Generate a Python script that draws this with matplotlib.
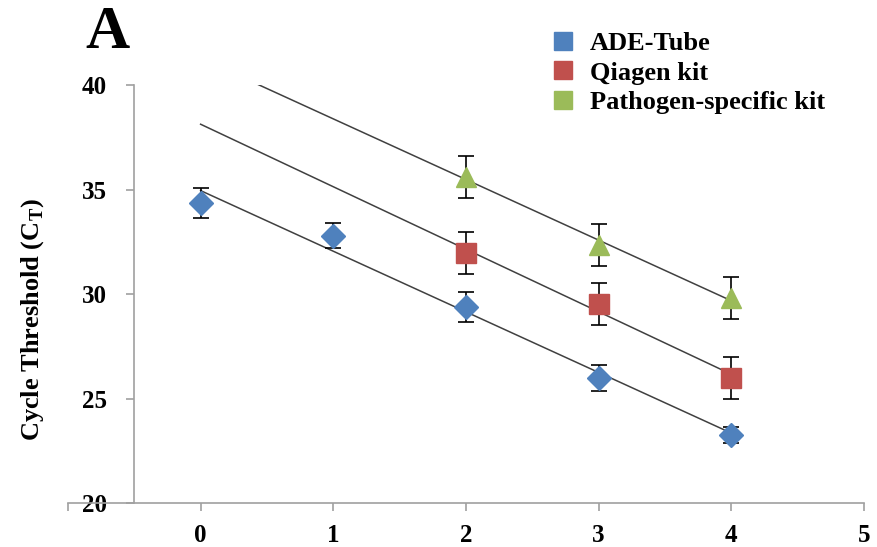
import numpy as np
import matplotlib
matplotlib.use("Agg")
import matplotlib.pyplot as plt
from matplotlib.lines import Line2D

plt.rcParams['font.family'] = ['Liberation Serif', 'DejaVu Serif']
plt.rcParams['font.weight'] = 'bold'

# data
ade_x = [0, 1, 2, 3, 4]
ade_y = [34.35, 32.78, 29.38, 25.98, 23.25]
ade_err = [0.7, 0.6, 0.7, 0.6, 0.4]

qia_x = [2, 3, 4]
qia_y = [31.96, 29.52, 25.98]
qia_err = [1.0, 1.0, 1.0]

pat_x = [2, 3, 4]
pat_y = [35.6, 32.34, 29.8]
pat_err = [1.0, 1.0, 1.0]

labels = ['ADE-Tube', 'Qiagen kit', 'Pathogen-specific kit']
colors = ['#4F81BD', '#C0504D', '#9BBB59']
markers = ['D', 's', '^']
msizes = [12, 14, 15]

fig = plt.figure(figsize=(8.77, 5.47), dpi=100)
ax = fig.add_axes([0.0775, 0.0804, 0.9075, 0.7642])

series = [(ade_x, ade_y, ade_err), (qia_x, qia_y, qia_err), (pat_x, pat_y, pat_err)]
for (x, y, e), c, m, ms in zip(series, colors, markers, msizes):
    # linear trendline extended back to x=0
    k, b = np.polyfit(x, y, 1)
    xt = np.array([0, 4])
    ax.plot(xt, k * xt + b, color='#404040', lw=1.1, zorder=2)
    ax.errorbar(x, y, yerr=e, fmt='none', ecolor='black', elinewidth=1.2,
                capsize=6, capthick=1.2, zorder=3)
    ax.plot(x, y, linestyle='none', marker=m, markersize=ms, color=c,
            markeredgecolor=c, zorder=4)

ax.set_xlim(-1, 5)
ax.set_ylim(20, 40)
ax.set_xticks(range(-1, 6))
ax.set_xticklabels([''] + [str(i) for i in range(6)])
ax.set_yticks(range(20, 41, 5))

ax.spines['top'].set_visible(False)
ax.spines['right'].set_visible(False)
ax.spines['left'].set_position(('data', -0.5))
for s in ['left', 'bottom']:
    ax.spines[s].set_color('#a0a0a0')
    ax.spines[s].set_linewidth(1.2)
ax.tick_params(axis='both', colors='#a0a0a0', length=6, width=1.2,
               labelcolor='black', labelsize=18)
ax.tick_params(axis='y', pad=14)
ax.tick_params(axis='x', pad=9)
for lab in ax.get_xticklabels() + ax.get_yticklabels():
    lab.set_fontweight('bold')

fig.text(0.037, 0.415, 'Cycle Threshold (C$_\\mathregular{T}$)', rotation=90,
         ha='center', va='center', fontsize=19, fontweight='bold')
fig.text(0.097, 0.99, 'A', fontsize=44, fontweight='bold', ha='left', va='top')

handles = [Line2D([], [], linestyle='none', marker='s', markersize=13,
                  color=c, markeredgecolor=c) for c in colors]
leg = fig.legend(handles, labels, loc='upper left', bbox_to_anchor=(0.6, 0.985),
                 frameon=False, handlelength=1.0, handletextpad=0.5,
                 labelspacing=0.22, prop={'weight': 'bold', 'size': 19})

fig.savefig('out.png', dpi=100)
